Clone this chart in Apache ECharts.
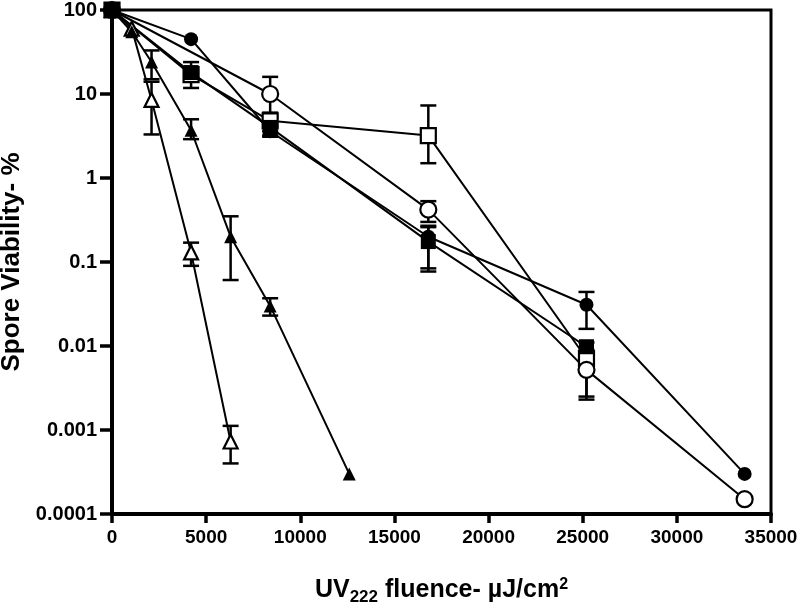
<!DOCTYPE html>
<html>
<head>
<meta charset="utf-8">
<script src="https://cdn.jsdelivr.net/npm/echarts@6/dist/echarts.min.js"></script>
<style>
  html, body { margin: 0; padding: 0; background: #fff; }
  #chart { width: 800px; height: 602px; }
</style>
</head>
<body>
<div id="chart"></div>
<script>
// UV222 fluence (uJ/cm2) and spore viability (%) per strain
var xTicks = [0, 5000, 10000, 15000, 20000, 25000, 30000, 35000];
var yTicks = [0.0001, 0.001, 0.01, 0.1, 1, 10, 100];

var fillCircleX = [0, 4200, 8400, 16800, 25200, 33600];
var fillCircleY = [100, 45, 3.6, 0.2, 0.031, 0.0003];
var fillCircleErr = [null, null, [3.2, 4.2], [0.077, 0.26], [0.016, 0.044], null];

var openCircleX = [0, 8400, 16800, 25200, 33600];
var openCircleY = [100, 10, 0.42, 0.0052, 0.00015];
var openCircleErr = [null, [6, 16], [0.3, 0.53], [0.0023, 0.007], null];

var fillSquareX = [0, 4200, 8400, 16800, 25200];
var fillSquareY = [100, 18, 4.0, 0.175, 0.0098];
var fillSquareErr = [null, [11.8, 24], [3.1, 5.2], [0.084, 0.27], [0.008, 0.011]];

var openSquareX = [0, 4200, 8400, 16800, 25200];
var openSquareY = [100, 17, 4.8, 3.2, 0.0071];
var openSquareErr = [null, null, [3.6, 5.6], [1.5, 7.3], [0.0025, 0.009]];

var fillTriX = [0, 1050, 2100, 4200, 6300, 8400, 12600];
var fillTriY = [100, 55, 24, 3.7, 0.2, 0.03, 0.0003];
var fillTriErr = [null, null, [15, 33], [2.9, 5.0], [0.061, 0.35], [0.023, 0.037], null];

var openTriX = [0, 1050, 2100, 4200, 6300];
var openTriY = [100, 60, 8.5, 0.13, 0.00073];
var openTriErr = [null, null, [3.3, 14], [0.09, 0.17], [0.0004, 0.00112]];

function pairs(xs, ys) {
    return xs.map(function (x, i) { return [x, ys[i]]; });
}

function errRows(xs, errs) {
    var rows = [];
    errs.forEach(function (e, i) {
        if (e) rows.push([xs[i], e[0], e[1]]);
    });
    return rows;
}

function lineSeries(name, xs, ys, symbol, size, hollow) {
    return {
        name: name,
        type: 'line',
        data: pairs(xs, ys),
        symbol: symbol,
        symbolSize: size,
        showAllSymbol: true,
        z: 3,
        lineStyle: { color: '#000', width: 2 },
        itemStyle: hollow
            ? { color: '#fff', borderColor: '#000', borderWidth: 2.2 }
            : { color: '#000', borderColor: '#000', borderWidth: 0 },
        emphasis: { disabled: true }
    };
}

function errSeries(xs, errs) {
    return {
        type: 'custom',
        data: errRows(xs, errs),
        z: 2,
        silent: true,
        renderItem: function (params, api) {
            var lo = api.coord([api.value(0), api.value(1)]);
            var hi = api.coord([api.value(0), api.value(2)]);
            var w = 8;
            var st = { stroke: '#000', lineWidth: 2.5 };
            return {
                type: 'group',
                children: [
                    { type: 'line', shape: { x1: lo[0], y1: lo[1], x2: hi[0], y2: hi[1] }, style: st },
                    { type: 'line', shape: { x1: lo[0] - w, y1: lo[1], x2: lo[0] + w, y2: lo[1] }, style: st },
                    { type: 'line', shape: { x1: hi[0] - w, y1: hi[1], x2: hi[0] + w, y2: hi[1] }, style: st }
                ]
            };
        }
    };
}

function fmtY(v) {
    for (var i = 0; i < yTicks.length; i++) {
        if (Math.abs(Math.log10(v) - Math.log10(yTicks[i])) < 1e-6) return String(yTicks[i]);
    }
    return '';
}

var chart = echarts.init(document.getElementById('chart'));

var font = 'Liberation Sans, Arial, sans-serif';

chart.setOption({
    animation: false,
    backgroundColor: '#fff',
    grid: {
        left: 112, right: 29, top: 10, bottom: 88,
        outerBoundsMode: 'none',
        containLabel: false,
        show: true, borderColor: '#000', borderWidth: 3
    },
    xAxis: {
        type: 'value',
        min: xTicks[0],
        max: xTicks[xTicks.length - 1],
        interval: 5000,
        splitLine: { show: false },
        axisLine: { show: true, onZero: false, lineStyle: { color: '#000', width: 4 } },
        axisTick: { show: true, length: 9, lineStyle: { color: '#000', width: 3.5 } },
        axisLabel: {
            color: '#000', fontFamily: font, fontWeight: 'bold', fontSize: 19, margin: 14,
            formatter: function (v) { return String(v); }
        },
        name: '{n|UV}{sub|222}{n| fluence- µJ/cm}{sup|2}',
        nameLocation: 'middle',
        nameGap: 61,
        nameTextStyle: {
            color: '#000',
            rich: {
                n: { fontFamily: font, fontWeight: 'bold', fontSize: 25, color: '#000', lineHeight: 30 },
                sub: { fontFamily: font, fontWeight: 'bold', fontSize: 17, color: '#000', padding: [14, 0, 0, 0] },
                sup: { fontFamily: font, fontWeight: 'bold', fontSize: 16, color: '#000', padding: [0, 0, 12, 0] }
            }
        }
    },
    yAxis: {
        type: 'log',
        logBase: 10,
        min: yTicks[0],
        max: yTicks[yTicks.length - 1],
        splitLine: { show: false },
        minorTick: { show: false },
        axisLine: { show: true, onZero: false, lineStyle: { color: '#000', width: 4 } },
        axisTick: { show: true, length: 12, lineStyle: { color: '#000', width: 3.5 } },
        axisLabel: { color: '#000', fontFamily: font, fontWeight: 'bold', fontSize: 20, margin: 15, formatter: fmtY },
        name: 'Spore Viability- %',
        nameLocation: 'middle',
        nameGap: 87,
        nameTextStyle: { color: '#000', fontFamily: font, fontWeight: 'bold', fontSize: 26 }
    },
    series: [
        errSeries(fillCircleX, fillCircleErr),
        errSeries(openCircleX, openCircleErr),
        errSeries(fillSquareX, fillSquareErr),
        errSeries(openSquareX, openSquareErr),
        errSeries(fillTriX, fillTriErr),
        errSeries(openTriX, openTriErr),
        lineSeries('openTri', openTriX, openTriY, 'triangle', 14, true),
        lineSeries('fillTri', fillTriX, fillTriY, 'triangle', 13, false),
        lineSeries('openSquare', openSquareX, openSquareY, 'rect', 15, true),
        lineSeries('openCircle', openCircleX, openCircleY, 'circle', 16, true),
        lineSeries('fillCircle', fillCircleX, fillCircleY, 'circle', 14, false),
        lineSeries('fillSquare', fillSquareX, fillSquareY, 'rect', 15, false)
    ]
});

window.addEventListener('resize', function () {
    chart.resize();
});
</script>
</body>
</html>
